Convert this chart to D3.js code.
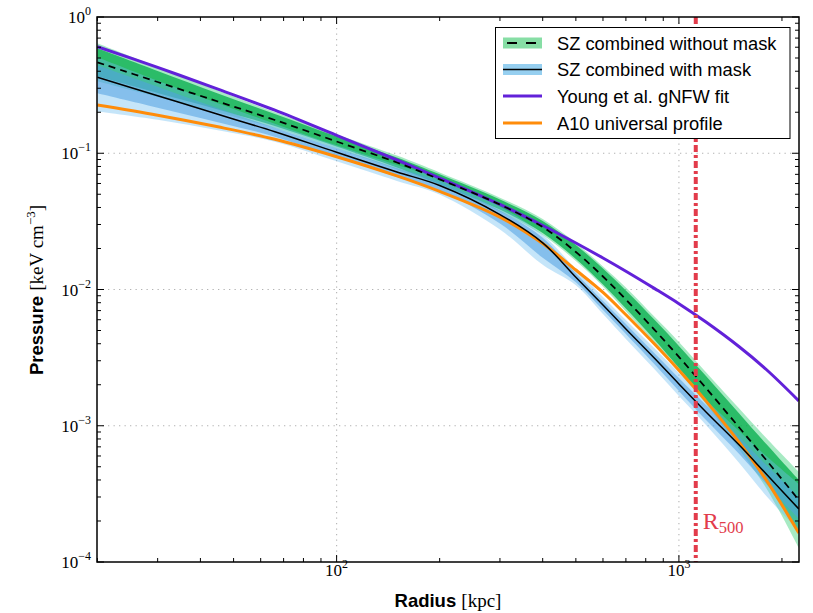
<!DOCTYPE html>
<html>
<head>
<meta charset="utf-8">
<script src="https://cdn.jsdelivr.net/npm/d3@7"></script>
<style>
  body { margin: 0; background: #fff; }
  svg { display: block; }
</style>
</head>
<body>
<svg id="chart" width="813" height="613"></svg>
<script>
// Radii (kpc) at which the profiles are tabulated
const radius = [20, 30, 45, 66, 100, 150, 200, 300, 400, 500, 600, 700, 850, 1000, 1200, 1500, 1800, 2240];

// Pressure profiles (keV cm^-3)
const szNoMask = [0.465, 0.3334, 0.2398, 0.1754, 0.1220, 0.0855, 0.0643, 0.0420, 0.02875, 0.01884, 0.01246, 0.00844, 0.00504, 0.00320, 0.00189, 0.000971, 0.000560, 0.000285];
const szMask   = [0.3608, 0.2645, 0.1931, 0.1439, 0.1016, 0.0729, 0.0580, 0.0355, 0.02200, 0.01230, 0.00769, 0.00513, 0.003115, 0.002025, 0.001262, 0.000722, 0.000442, 0.000245];
const youngGNFW = [0.605, 0.4266, 0.2957, 0.2070, 0.1352, 0.0892, 0.0658, 0.0421, 0.02949, 0.02195, 0.01703, 0.01362, 0.01015, 0.00787, 0.00577, 0.00380, 0.002587, 0.001524];
const a10 = [0.2260, 0.1903, 0.1563, 0.1266, 0.0943, 0.0682, 0.0525, 0.0340, 0.02176, 0.01390, 0.00951, 0.00652, 0.00396, 0.002553, 0.001517, 0.000755, 0.000399, 0.000163];

// Uncertainties in dex (upper / lower), inner = 68%, outer = 95%
const noMaskInnerUp = [0.103, 0.081, 0.059, 0.044, 0.037, 0.037, 0.037, 0.037, 0.044, 0.051, 0.059, 0.066, 0.073, 0.081, 0.088, 0.103, 0.117, 0.147];
const noMaskInnerDn = [0.103, 0.081, 0.059, 0.044, 0.037, 0.037, 0.037, 0.037, 0.044, 0.051, 0.059, 0.066, 0.073, 0.081, 0.088, 0.117, 0.161, 0.235];
const noMaskOuterUp = [0.139, 0.110, 0.081, 0.059, 0.051, 0.051, 0.051, 0.051, 0.059, 0.066, 0.073, 0.088, 0.095, 0.110, 0.117, 0.139, 0.161, 0.206];
const noMaskOuterDn = [0.139, 0.110, 0.081, 0.059, 0.051, 0.051, 0.051, 0.051, 0.059, 0.066, 0.073, 0.088, 0.095, 0.110, 0.117, 0.161, 0.206, 0.352];
const maskInnerUp = [0.088, 0.066, 0.044, 0.029, 0.029, 0.029, 0.029, 0.029, 0.037, 0.029, 0.029, 0.037, 0.037, 0.044, 0.051, 0.059, 0.066, 0.088];
const maskInnerDn = [0.117, 0.088, 0.059, 0.037, 0.037, 0.037, 0.037, 0.066, 0.110, 0.037, 0.037, 0.037, 0.044, 0.051, 0.059, 0.066, 0.073, 0.073];
const maskOuterUp = [0.147, 0.110, 0.081, 0.059, 0.051, 0.051, 0.051, 0.059, 0.059, 0.059, 0.059, 0.066, 0.073, 0.081, 0.088, 0.103, 0.132, 0.183];
const maskOuterDn = [0.250, 0.176, 0.117, 0.073, 0.066, 0.066, 0.066, 0.110, 0.161, 0.059, 0.066, 0.073, 0.081, 0.088, 0.095, 0.132, 0.161, 0.161];

const r500 = 1120;

// Axis decades and labels
const xMajor = [100, 1000];
const xMajorExp = ["2", "3"];
const yMajor = [1, 0.1, 0.01, 0.001, 0.0001];
const yMajorExp = ["0", "\u22121", "\u22122", "\u22123", "\u22124"];

const legendLabels = ["SZ combined without mask", "SZ combined with mask", "Young et al. gNFW fit", "A10 universal profile"];

// ---- layout ----
const plotL = 97, plotR = 799, plotT = 17, plotB = 562;
const svg = d3.select("#chart");

const x = d3.scaleLog().domain([19.95, 2243]).range([plotL, plotR]);
const y = d3.scaleLog().domain([1e-4, 1]).range([plotB, plotT]);

const serif = "'Liberation Serif', 'Times New Roman', serif";
const sans = "'Liberation Sans', Arial, Helvetica, sans-serif";

svg.append("defs").append("clipPath").attr("id", "plotClip")
  .append("rect").attr("x", plotL).attr("y", plotT).attr("width", plotR - plotL).attr("height", plotB - plotT);

// grid
const grid = svg.append("g").attr("stroke", "#b3b3b3").attr("stroke-width", 1.1).attr("stroke-dasharray", "1.3,4.2");
grid.selectAll(".gx").data(xMajor).enter().append("line")
  .attr("x1", d => x(d)).attr("x2", d => x(d)).attr("y1", plotT).attr("y2", plotB);
grid.selectAll(".gy").data(yMajor.slice(1, -1)).enter().append("line")
  .attr("y1", d => y(d)).attr("y2", d => y(d)).attr("x1", plotL).attr("x2", plotR);

const plot = svg.append("g").attr("clip-path", "url(#plotClip)");

function bandRows(center, up, dn) {
  return radius.map((r, i) => ({ r: r, hi: center[i] * Math.pow(10, up[i]), lo: center[i] / Math.pow(10, dn[i]) }));
}
const smooth = d3.curveCatmullRom.alpha(0.5);
const area = d3.area().x(d => x(d.r)).y0(d => y(d.lo)).y1(d => y(d.hi)).curve(smooth);
const line = d3.line().x(d => x(d.r)).y(d => y(d.p)).curve(smooth);
const rows = arr => radius.map((r, i) => ({ r: r, p: arr[i] }));

// bands: without mask (green), then with mask (blue)
plot.append("path").attr("d", area(bandRows(szNoMask, noMaskOuterUp, noMaskOuterDn)))
  .attr("fill", "rgb(46,204,113)").attr("fill-opacity", 0.42);
plot.append("path").attr("d", area(bandRows(szNoMask, noMaskInnerUp, noMaskInnerDn)))
  .attr("fill", "rgb(0,172,72)").attr("fill-opacity", 0.74);
plot.append("path").attr("d", area(bandRows(szMask, maskOuterUp, maskOuterDn)))
  .attr("fill", "rgb(110,190,240)").attr("fill-opacity", 0.4);
plot.append("path").attr("d", area(bandRows(szMask, maskInnerUp, maskInnerDn)))
  .attr("fill", "rgb(80,160,225)").attr("fill-opacity", 0.55);

// model curves
plot.append("path").attr("d", line(rows(youngGNFW))).attr("fill", "none")
  .attr("stroke", "#6221d9").attr("stroke-width", 3);
plot.append("path").attr("d", line(rows(a10))).attr("fill", "none")
  .attr("stroke", "#ff8c0a").attr("stroke-width", 3);
plot.append("path").attr("d", line(rows(szNoMask))).attr("fill", "none")
  .attr("stroke", "#000").attr("stroke-width", 1.8).attr("stroke-dasharray", "7,5");
plot.append("path").attr("d", line(rows(szMask))).attr("fill", "none")
  .attr("stroke", "#000").attr("stroke-width", 1.5);

// R500 marker
plot.append("line").attr("x1", x(r500)).attr("x2", x(r500)).attr("y1", plotT).attr("y2", plotB)
  .attr("stroke", "#e23c4b").attr("stroke-width", 4).attr("stroke-dasharray", "7,3,3,3");
const rl = svg.append("text").attr("x", x(r500) + 7).attr("y", 529)
  .attr("font-family", serif).attr("font-size", 24).attr("fill", "#e23c4b");
rl.append("tspan").text("R");
rl.append("tspan").attr("font-size", 16.5).attr("dy", 4).text("500");

// ticks (inward on all four sides)
const ticks = svg.append("g").attr("stroke", "#000").attr("stroke-width", 1);
const xAll = x.ticks().filter(v => v >= 20 && v <= 2243);
const yAll = y.ticks();
const isMajor = v => Math.abs(Math.log10(v) - Math.round(Math.log10(v))) < 1e-6;
xAll.forEach(v => {
  const L = isMajor(v) ? 7 : 4, px = x(v);
  ticks.append("line").attr("x1", px).attr("x2", px).attr("y1", plotB).attr("y2", plotB - L);
  ticks.append("line").attr("x1", px).attr("x2", px).attr("y1", plotT).attr("y2", plotT + L);
});
yAll.forEach(v => {
  const L = isMajor(v) ? 7 : 4, py = y(v);
  ticks.append("line").attr("y1", py).attr("y2", py).attr("x1", plotL).attr("x2", plotL + L);
  ticks.append("line").attr("y1", py).attr("y2", py).attr("x1", plotR).attr("x2", plotR - L);
});

// frame
svg.append("rect").attr("x", plotL).attr("y", plotT).attr("width", plotR - plotL).attr("height", plotB - plotT)
  .attr("fill", "none").attr("stroke", "#000").attr("stroke-width", 1.5);

// tick labels
yMajor.forEach((v, i) => {
  const t = svg.append("text").attr("x", 91).attr("y", y(v) + 6).attr("text-anchor", "end")
    .attr("font-family", serif).attr("font-size", 17).attr("fill", "#000");
  t.append("tspan").text("10");
  t.append("tspan").attr("font-size", 12).attr("dy", -8).text(yMajorExp[i]);
});
xMajor.forEach((v, i) => {
  const t = svg.append("text").attr("x", x(v)).attr("y", 576).attr("text-anchor", "middle")
    .attr("font-family", serif).attr("font-size", 17).attr("fill", "#000");
  t.append("tspan").text("10");
  t.append("tspan").attr("font-size", 12).attr("dy", -8).text(xMajorExp[i]);
});

// axis titles
const xt = svg.append("text").attr("x", 448).attr("y", 607).attr("text-anchor", "middle").attr("fill", "#000");
xt.append("tspan").attr("font-family", sans).attr("font-weight", "bold").attr("font-size", 18.5).text("Radius ");
xt.append("tspan").attr("font-family", serif).attr("font-size", 19).text("[kpc]");

const yt = svg.append("text").attr("transform", "translate(43,290) rotate(-90)").attr("text-anchor", "middle").attr("fill", "#000");
yt.append("tspan").attr("font-family", sans).attr("font-weight", "bold").attr("font-size", 18.5).text("Pressure ");
yt.append("tspan").attr("font-family", serif).attr("font-size", 19).text("[keV cm");
yt.append("tspan").attr("font-family", serif).attr("font-size", 13).attr("dy", -8).text("\u22123");
yt.append("tspan").attr("font-family", serif).attr("font-size", 19).attr("dy", 8).text("]");

// legend
const lg = svg.append("g");
lg.append("rect").attr("x", 495.5).attr("y", 27.5).attr("width", 294.5).attr("height", 111)
  .attr("fill", "#fff").attr("stroke", "#000").attr("stroke-width", 1);
const rowY = [43, 69.5, 96, 123];
lg.append("rect").attr("x", 503).attr("y", rowY[0] - 5.5).attr("width", 39).attr("height", 11).attr("fill", "rgb(135,222,165)");
lg.append("line").attr("x1", 503).attr("x2", 542).attr("y1", rowY[0]).attr("y2", rowY[0])
  .attr("stroke", "#000").attr("stroke-width", 1.8).attr("stroke-dasharray", "10,9").attr("stroke-dashoffset", -4);
lg.append("rect").attr("x", 503).attr("y", rowY[1] - 5.5).attr("width", 39).attr("height", 11).attr("fill", "rgb(150,207,240)");
lg.append("line").attr("x1", 503).attr("x2", 542).attr("y1", rowY[1]).attr("y2", rowY[1])
  .attr("stroke", "#000").attr("stroke-width", 1.5);
lg.append("line").attr("x1", 503).attr("x2", 542).attr("y1", rowY[2]).attr("y2", rowY[2])
  .attr("stroke", "#6221d9").attr("stroke-width", 3);
lg.append("line").attr("x1", 503).attr("x2", 542).attr("y1", rowY[3]).attr("y2", rowY[3])
  .attr("stroke", "#ff8c0a").attr("stroke-width", 3);
legendLabels.forEach((s, i) => {
  lg.append("text").attr("x", 557).attr("y", rowY[i] + 6.5).attr("font-family", sans).attr("font-size", 18.3)
    .attr("fill", "#000").text(s);
});
</script>
</body>
</html>
